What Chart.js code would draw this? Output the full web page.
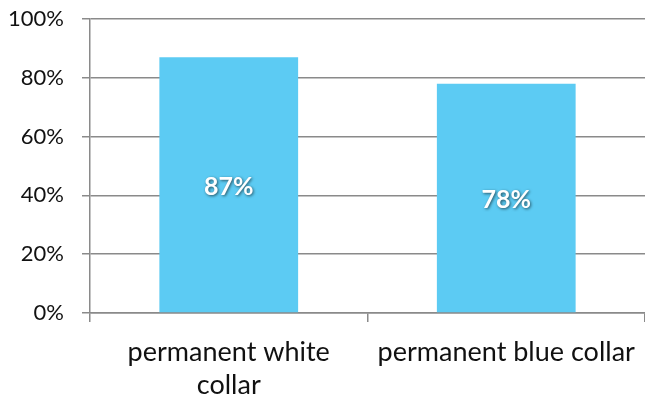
<!DOCTYPE html>
<html>
<head>
<meta charset="utf-8">
<script src="https://cdn.jsdelivr.net/npm/chart.js@4/dist/chart.umd.min.js"></script>
<style>
  html, body { margin: 0; padding: 0; background: #fff; }
  #wrap { width: 645px; height: 401px; }
</style>
</head>
<body>
<div id="wrap"><canvas id="chart"></canvas></div>
<script>
// categories + values
const categories = [['permanent white', 'collar'], ['permanent blue collar']];
const shares = [87, 78];
const yTicks = [0, 20, 40, 60, 80, 100];

const FONT = 'Lato, "Open Sans", sans-serif';
const LINE = '#8a8a8a';

// white bold value labels with a soft dark shadow, centred in each bar
const barLabels = {
  id: 'barLabels',
  afterDatasetsDraw(chart) {
    const { ctx } = chart;
    const meta = chart.getDatasetMeta(0);
    ctx.save();
    ctx.font = 'bold 25px ' + FONT;
    ctx.textAlign = 'center';
    ctx.textBaseline = 'middle';
    meta.data.forEach((bar, i) => {
      const y = (bar.y + bar.base) / 2 + 2;
      ctx.shadowColor = 'rgba(0,0,0,0.6)';
      ctx.shadowBlur = 3;
      ctx.shadowOffsetX = 1;
      ctx.shadowOffsetY = 1;
      ctx.fillStyle = '#fff';
      ctx.fillText(shares[i] + '%', bar.x, y);
    });
    ctx.restore();
  }
};

new Chart(document.getElementById('chart'), {
  type: 'bar',
  data: {
    labels: categories,
    datasets: [{ data: shares, backgroundColor: '#5ccbf3', categoryPercentage: 1, barPercentage: 0.5 }],
  },
  options: {
    responsive: true,
    maintainAspectRatio: false,
    animation: false,
    layout: { padding: { top: 19, right: 0, left: 0, bottom: 0 } },
    plugins: { legend: { display: false }, tooltip: { enabled: false } },
    scales: {
      x: {
        afterFit(scale) { scale.height = 88; scale.paddingLeft = 0; scale.paddingRight = 0; },
        grid: { drawOnChartArea: false, drawTicks: true, tickLength: 9, color: LINE, lineWidth: 1.5, offset: true },
        border: { color: LINE, width: 1.5 },
        ticks: { color: '#111', font: { family: FONT, size: 27, lineHeight: 1.25 }, padding: 13, maxRotation: 0, autoSkip: false },
      },
      y: {
        min: 0,
        max: 100,
        afterBuildTicks(scale) { scale.ticks = yTicks.map(v => ({ value: v })); },
        afterFit(scale) { scale.width = 90; scale.paddingTop = 0; scale.paddingBottom = 0; },
        grid: { color: LINE, lineWidth: 1.5, tickLength: 8 },
        border: { color: LINE, width: 1.5 },
        ticks: { color: '#111', font: { family: FONT, size: 22 }, padding: 18, callback: v => v + '%' },
      },
    },
  },
  plugins: [barLabels],
});
</script>
</body>
</html>
